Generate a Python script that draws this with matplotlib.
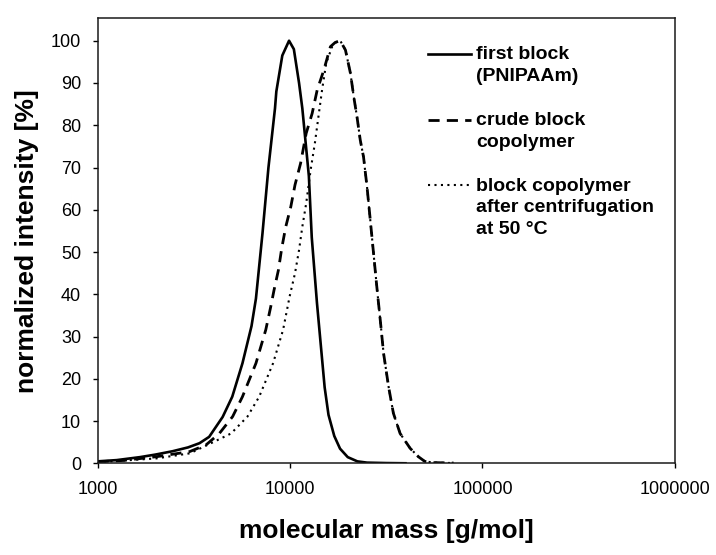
import numpy as np
import matplotlib
matplotlib.use("Agg")
import matplotlib.pyplot as plt
from matplotlib.legend_handler import HandlerLine2D
from matplotlib.ticker import FixedLocator, FixedFormatter, NullLocator

plt.rcParams["font.family"] = ["Liberation Sans", "DejaVu Sans"]

### Data (molecular mass in g/mol, intensity in %) ###
labels = ["first block\n(PNIPAAm)",
          "crude block\ncopolymer",
          "block copolymer\nafter centrifugation\nat 50 \u00b0C"]

mass_first = [1000, 1259, 1660, 1995, 2455, 2951, 3388, 3802, 4467, 5012,
              5662, 6310, 6653, 7194, 7727, 8356, 8492, 9120, 9886, 10471,
              11143, 11588, 12050, 12531, 12972, 13804, 14454, 15136, 15849,
              16982, 18197, 19953, 22387, 25119, 31623, 39811]
int_first = [0.5, 0.8, 1.5, 2.1, 2.9, 3.8, 4.8, 6.3, 11.0, 15.8,
             23.7, 32.5, 39.0, 54.4, 70.0, 84.0, 88.0, 96.5, 100.0, 98.0,
             90.0, 84.0, 76.0, 68.0, 53.5, 38.0, 28.0, 18.0, 11.5,
             6.5, 3.5, 1.5, 0.5, 0.2, 0.1, 0.05]

# rising side of the crude block copolymer
mass_crude_up = [1000, 1349, 2023, 3006, 3664, 4295, 5035, 5662, 6653, 7482,
                 7943, 8260, 8710, 9057, 9506, 10093, 10617, 11350, 12134,
                 13032, 13836, 14997, 16218, 17179]
int_crude_up = [0.4, 0.7, 1.6, 2.8, 4.4, 7.1, 11.1, 15.8, 23.7, 31.6,
                37.1, 41.0, 45.8, 50.9, 56.0, 60.7, 65.9, 71.0, 78.1,
                82.8, 88.3, 93.1, 98.6, 99.6]

# rising side of the block copolymer after centrifugation
mass_cent_up = [1000, 2023, 3020, 3890, 4943, 6012, 6918, 8166, 9204, 9683,
                9954, 10617, 11143, 11588, 12134, 12794, 13459, 14125, 14689,
                15417, 16558, 17378]
int_cent_up = [0.3, 1.2, 2.4, 4.8, 7.1, 11.1, 15.8, 23.7, 31.6, 36.7,
               39.5, 45.0, 50.5, 56.0, 61.5, 69.4, 75.7, 82.8, 88.5,
               94.7, 98.6, 99.7]

# both copolymer traces share the same peak and falling side
mass_copo_down = [18239, 19409, 20606, 21429, 22284, 23174, 24099, 25119,
                  26122, 27164, 28249, 29444, 30620, 32509, 34435, 37325,
                  42073, 46452, 50119, 56234, 70795]
int_copo_down = [100.0, 97.8, 92.3, 86.8, 82.0, 76.5, 72.5, 65.5,
                 57.6, 49.7, 41.8, 33.9, 26.1, 18.2, 11.9, 7.1,
                 3.6, 1.6, 0.5, 0.2, 0.1]

x_ticks = [1000, 10000, 100000, 1000000]
x_tick_labels = ["1000", "10000", "100000", "1000000"]
y_ticks = list(range(0, 101, 10))


class TopLineHandler(HandlerLine2D):
    """Legend line placed next to the first line of a multi-line label."""

    def __init__(self, lift=0.0, **kw):
        super().__init__(**kw)
        self.lift = lift

    def create_artists(self, legend, orig_handle, xdescent, ydescent,
                       width, height, fontsize, trans):
        arts = super().create_artists(legend, orig_handle, xdescent, ydescent,
                                      width, height, fontsize, trans)
        for a in arts:
            a.set_ydata(np.asarray(a.get_ydata()) + self.lift)
        return arts


fig, ax = plt.subplots(figsize=(7.16, 5.55), dpi=100)
fig.subplots_adjust(left=0.1362, right=0.9427, top=0.967, bottom=0.1649)

mass_crude = mass_crude_up + mass_copo_down
int_crude = int_crude_up + int_copo_down
mass_cent = mass_cent_up + mass_copo_down
int_cent = int_cent_up + int_copo_down

l1, = ax.plot(mass_first, int_first, color="black", lw=1.9,
              solid_joinstyle="round", label=labels[0])
l2, = ax.plot(mass_crude, int_crude, color="black", lw=2.0,
              linestyle=(0, (4.0, 2.6)), label=labels[1])
l3, = ax.plot(mass_cent, int_cent, color="black", lw=1.5,
              linestyle=(0, (1.0, 2.1)), label=labels[2])

ax.set_xscale("log")
ax.set_xlim(1000, 1000000)
ax.set_ylim(0, 105.3)
ax.xaxis.set_major_locator(FixedLocator(x_ticks))
ax.xaxis.set_major_formatter(FixedFormatter(x_tick_labels))
ax.xaxis.set_minor_locator(NullLocator())
ax.set_yticks(y_ticks)

ax.tick_params(axis="both", direction="out", length=3.8, width=1.0,
               labelsize=13, colors="black")
ax.tick_params(axis="x", pad=9)
ax.tick_params(axis="y", pad=8)
for s in ax.spines.values():
    s.set_linewidth(1.1)
    s.set_color("#1a1a1a")

ax.set_xlabel("molecular mass [g/mol]", fontsize=19, fontweight="bold")
ax.set_ylabel("normalized intensity [%]", fontsize=19, fontweight="bold")
ax.xaxis.set_label_coords(0.5, -0.124)
ax.yaxis.set_label_coords(-0.102, 0.5)

leg = ax.legend(handles=[l1, l2, l3], loc="upper left",
                bbox_to_anchor=(0.572, 0.937), frameon=False,
                fontsize=14, borderpad=0, borderaxespad=0,
                handlelength=2.2, handletextpad=0.28, labelspacing=1.38,
                handler_map={l1: TopLineHandler(8.0),
                             l2: TopLineHandler(8.0),
                             l3: TopLineHandler(16.0)})
for t in leg.get_texts():
    t.set_fontweight("bold")
    t.set_linespacing(1.37)

fig.savefig("out.png", dpi=100)
